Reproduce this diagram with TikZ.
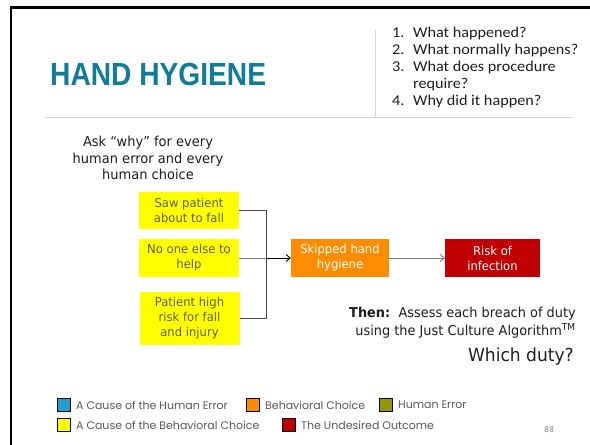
\documentclass[tikz,border=0pt]{standalone}
\usepackage{fontspec}
\setmainfont{DejaVu Sans}[FakeStretch=0.95]
\newfontfamily\listfont{Carlito}[FakeStretch=1.08]
\newfontfamily\legendfont{Poppins}
\newfontfamily\titlefont{Liberation Sans}
\usetikzlibrary{arrows.meta}

\definecolor{titleteal}{RGB}{16,124,153}
\definecolor{causeyellow}{RGB}{255,255,0}
\definecolor{choiceorange}{RGB}{255,140,0}
\definecolor{outcomered}{RGB}{192,0,0}
\definecolor{errorblue}{RGB}{35,158,208}
\definecolor{errorolive}{RGB}{150,150,0}
\definecolor{boxtext}{RGB}{95,95,70}
\definecolor{rulegray}{RGB}{215,215,215}
\definecolor{legendgray}{RGB}{89,89,89}
\definecolor{linkgray}{RGB}{70,70,70}
\definecolor{bodytext}{RGB}{30,30,30}

\begin{document}
\begin{tikzpicture}[x=1pt,y=-1pt,
  boxfont/.style={font=\fontsize{12.2}{15}\selectfont},
  causebox/.style={boxfont,fill=causeyellow,text=boxtext,minimum width=100pt,inner sep=0pt,align=center},
  choicebox/.style={boxfont,fill=choiceorange,text=white,minimum width=98pt,minimum height=38pt,inner sep=0pt,align=center},
  outcomebox/.style={boxfont,fill=outcomered,text=white,minimum width=95pt,minimum height=38pt,inner sep=0pt,align=center},
  link/.style={draw=linkgray,line width=0.9pt},
  tip/.style={-{Straight Barb[length=4pt,width=7pt]}},
  listitem/.style={anchor=base west,inner sep=0pt,text=bodytext,font=\listfont\fontsize{15}{16}\selectfont},
  legbox/.style={draw=black,line width=0.8pt,minimum size=13pt,inner sep=0pt},
  legtext/.style={anchor=west,inner sep=0pt,text=legendgray,font=\legendfont\fontsize{11}{13}\selectfont},
  rule/.style={draw=rulegray,line width=0.8pt}]
\useasboundingbox (0,0) rectangle (590,445);
\fill[white] (0,0) rectangle (590,445);

% slide frame
\draw[line width=2.6pt] (11,445) -- (11,7.5) -- (590,7.5);

% header
\node[anchor=base west,inner sep=0pt,text=titleteal] (title) at (50,85)
  {\scalebox{0.88}[1]{\titlefont\bfseries\fontsize{32}{32}\selectfont HAND HYGIENE}};
\draw[rule] (375,30) -- (375,117);
\draw[rule] (45,117) -- (573,117);

\node[listitem] (n1) at (392,37) {1.};
\node[listitem] (q1) at (413,37) {What happened?};
\node[listitem] (n2) at (392,54) {2.};
\node[listitem] (q2) at (413,54) {What normally happens?};
\node[listitem] (n3) at (392,71) {3.};
\node[listitem] (q3) at (413,71) {What does procedure};
\node[listitem] (q3b) at (413,88) {require?};
\node[listitem] (n4) at (392,105) {4.};
\node[listitem] (q4) at (413,105) {Why did it happen?};

% prompt
\node[align=center,text=bodytext,font=\fontsize{13.7}{16.5}\selectfont] (ask) at (148,158)
  {Ask “why” for every\\human error and every\\human choice};

% causes, choice and outcome
\node[causebox,minimum height=37pt] (c1) at (189,210.5) {Saw patient\\about to fall};
\node[causebox,minimum height=38pt] (c2) at (189,258) {No one else to\\help};
\node[causebox,minimum height=53pt] (c3) at (189.5,318.5) {Patient high\\risk for fall\\and injury};
\node[choicebox] (skip) at (340,258) {Skipped hand\\hygiene};
\node[outcomebox] (risk) at (492.5,258) {Risk of\\infection};

\coordinate (join) at (266,258);
\draw[link] (c1.east) -| (join);
\draw[link] (c3.east) -| (join);
\draw[link,draw=gray] (c2.east) -- (join);
\draw[link,draw=black,tip] (join) -- (skip.west);
\draw[link,draw=gray,tip] (skip.east) -- (risk.west);

% follow-up
\node[anchor=east,align=right,text=bodytext,inner sep=0pt,font=\fontsize{13.6}{18}\selectfont] (then) at (576,323)
  {\textbf{Then:}\ \ Assess each breach of duty\\using the Just Culture Algorithm\textsuperscript{TM}};
\node[anchor=east,inner sep=0pt,text=bodytext,font=\fontsize{18}{20}\selectfont] (which) at (574,357) {Which duty?};

% legend
\node[legbox,fill=errorblue] (k1) at (63.5,405) {};
\node[legtext] (t1) at (76,405) {A Cause of the Human Error};
\node[legbox,fill=choiceorange] (k2) at (252.5,405) {};
\node[legtext] (t2) at (265,405) {Behavioral Choice};
\node[legbox,fill=errorolive] (k3) at (385.5,405) {};
\node[legtext] (t3) at (398,405) {Human Error};
\node[legbox,fill=causeyellow] (k4) at (63.5,425) {};
\node[legtext] (t4) at (76,425) {A Cause of the Behavioral Choice};
\node[legbox,fill=outcomered] (k5) at (288.5,425) {};
\node[legtext] (t5) at (301,425) {The Undesired Outcome};

\node[text=gray,inner sep=0pt,font=\fontsize{8}{9}\selectfont] (page) at (549,430) {88};
\end{tikzpicture}
\end{document}
